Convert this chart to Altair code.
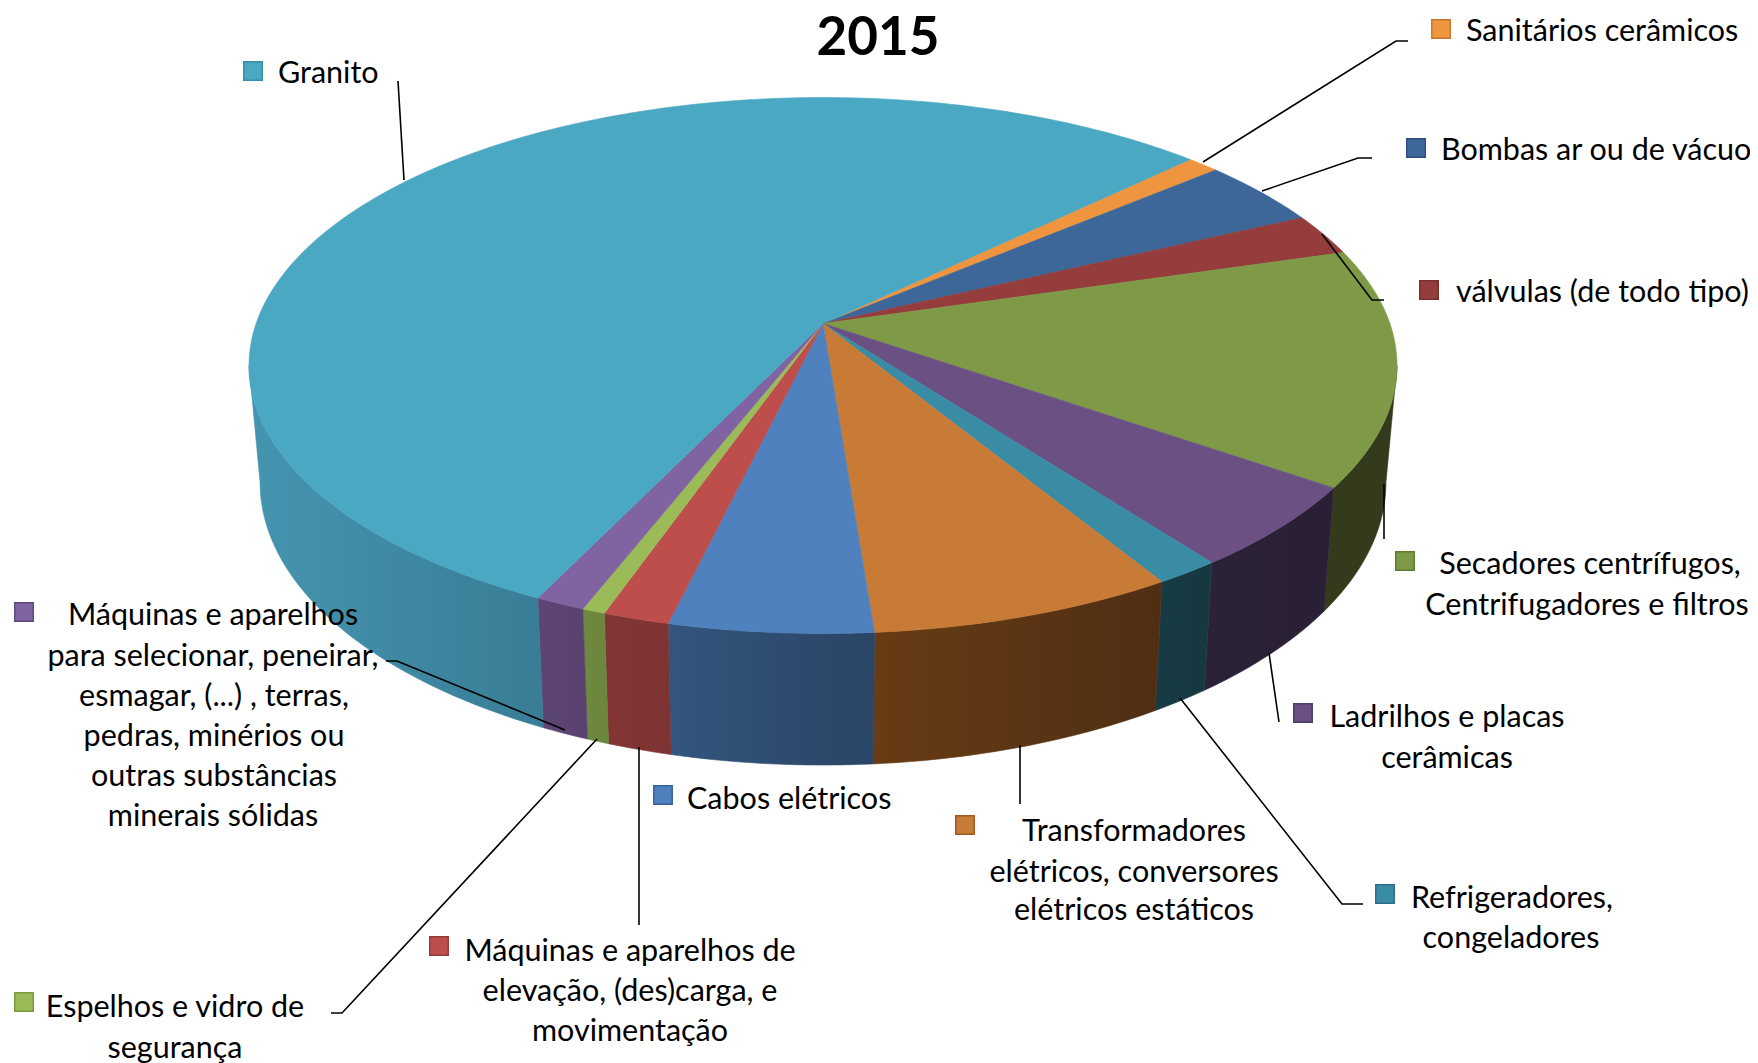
import numpy as np
import pandas as pd
import altair as alt

# ---- values (share of the pie, %) clockwise from the first slice
names = ["Sanitários cerâmicos", "Bombas ar ou de vácuo", "válvulas (de todo tipo)",
         "Secadores centrífugos, Centrifugadores e filtros", "Ladrilhos e placas cerâmicas",
         "Refrigeradores, congeladores", "Transformadores elétricos, conversores elétricos estáticos",
         "Cabos elétricos", "Máquinas e aparelhos de elevação, (des)carga, e movimentação",
         "Espelhos e vidro de segurança",
         "Máquinas e aparelhos para selecionar, peneirar, esmagar, (...) , terras, pedras, minérios ou outras substâncias minerais sólidas",
         "Granito"]
shares = [1.06, 4.08, 2.53, 14.28, 5.06, 1.58, 7.44, 4.94, 1.61, 0.56, 1.22, 55.64]
top_colors = ["#F0953F", "#3C6798", "#953C3C", "#7F9A47", "#6A5083", "#3A8CA5",
              "#C87B37", "#4E81BD", "#BE4E4B", "#9BBB59", "#8064A2", "#4AA8C3"]
side_left = ["#A0601F", "#2A4A70", "#6E2A2A", "#333B1C", "#2C2238", "#173B44",
             "#683C14", "#33557E", "#833535", "#6F8A3F", "#5E4674", "#4595B0"]
side_right = ["#A0601F", "#2A4A70", "#6E2A2A", "#333B1C", "#2A1F34", "#163840",
              "#4F2E14", "#2A4565", "#7E3333", "#6B863D", "#5A4270", "#387D95"]
key_borders = ["#C8762F", "#2C5080", "#7A2E2E", "#5F7A32", "#4E3A66", "#2A7088",
               "#A05A20", "#35639B", "#9A3A38", "#7A9A40", "#5F4880", "#3590AC"]

# ---- label rows: text, position
label_text = ["Granito", "Sanitários cerâmicos", "Bombas ar ou de vácuo", "válvulas (de todo tipo)", "Cabos elétricos"]
label_left = [278, 1466, 1441, 1456, 687]
label_y = [74, 32, 151, 293, 800]

center_text = ["Secadores centrífugos,", "Centrifugadores e filtros", "Ladrilhos e placas", "cerâmicas",
               "Refrigeradores,", "congeladores", "Transformadores", "elétricos, conversores",
               "elétricos estáticos", "Máquinas e aparelhos de", "elevação, (des)carga, e", "movimentação",
               "Espelhos e vidro de", "segurança", "Máquinas e aparelhos", "para selecionar, peneirar,",
               "esmagar, (...) , terras,", "pedras, minérios ou", "outras substâncias", "minerais sólidas"]
center_x = [1590, 1587, 1447, 1447, 1512, 1511, 1134, 1134, 1134, 630, 630, 630, 175, 175,
            213, 213, 214, 214, 214, 213]
center_y = [565, 606, 718, 759, 899, 939, 832, 873, 911, 952, 992, 1032, 1008, 1049,
            616, 657, 697, 737, 777, 817]

key_x = [1441, 1416, 1429, 1405, 1303, 1385, 965, 663, 439, 24, 24, 253]
key_y = [29, 148, 290, 561, 713, 894, 825, 795, 946, 1002, 612, 71]

leaders = [
    [(398, 81), (404, 180)],
    [(1203, 162), (1396, 41), (1408, 41)],
    [(1262, 191), (1358, 158), (1372, 158)],
    [(1322, 234), (1372, 300), (1384, 300)],
    [(1384, 484), (1384, 539)],
    [(1269, 653), (1279, 722)],
    [(1180, 698), (1342, 904), (1363, 904)],
    [(1020, 745), (1020, 804)],
    [(639, 747), (639, 925)],
    [(597, 739), (342, 1013), (331, 1013)],
    [(565, 730), (397, 661), (386, 661)],
]

START_ANGLE = 45.9
TOP = dict(cy=323.5, H=261.4, W=566.9)
BOTTOM = dict(cy=438.0, H=275.8, W=556.0)
CX, K = 823.0, 0.1567
FONT = "Lato"
FS = 30.5

X = alt.Scale(domain=[8, 1750], nice=False, zero=False)
Y = alt.Scale(domain=[1063, 8], nice=False, zero=False)


def project(theta, g):
    t = np.radians(theta)
    u, v = np.sin(t), -np.cos(t)
    d = 1 - K * v
    return CX + g["W"] * u / d, g["cy"] + g["H"] * v / d


def arc(a, b):
    return np.linspace(a, b, max(2, int(abs(b - a)) + 2))


def poly_chart(xs, ys, fill, stroke, sw=0.8):
    df = pd.DataFrame({"x": xs, "y": ys, "o": range(len(xs))})
    return alt.Chart(df).mark_line(fill=fill, stroke=stroke, strokeWidth=sw, strokeJoin="round").encode(
        x=alt.X("x:Q", scale=X, axis=None),
        y=alt.Y("y:Q", scale=Y, axis=None),
        order="o:Q",
    )


edges = START_ANGLE + np.concatenate([[0], np.cumsum(shares)]) * 3.6
layers = []

# side wall (front half only)
VIS_A, VIS_B = 99.0, 261.0
for i in range(len(shares)):
    a, b = max(edges[i], VIS_A), min(edges[i + 1], VIS_B)
    if b <= a:
        continue
    th = arc(a, b)
    x1, y1 = project(th, TOP)
    x2, y2 = project(th[::-1], BOTTOM)
    xs = np.concatenate([x1, x2, x1[:1]])
    ys = np.concatenate([y1, y2, y1[:1]])
    # wall shading runs across x, darker toward the right
    grad = alt.LinearGradient(gradient="linear", x1=0, x2=1, y1=0, y2=0, stops=[
        alt.GradientStop(color=side_left[i], offset=0),
        alt.GradientStop(color=side_right[i], offset=1)])
    layers.append(poly_chart(xs, ys, grad, grad, 0.6))

# top face
for i in range(len(shares)):
    th = arc(edges[i], edges[i + 1])
    x1, y1 = project(th, TOP)
    xs = np.concatenate([[CX], x1, [CX]])
    ys = np.concatenate([[TOP["cy"]], y1, [TOP["cy"]]])
    layers.append(poly_chart(xs, ys, top_colors[i], top_colors[i], 0.6))

# leader lines
rows = [dict(g=g, o=j, x=p[0], y=p[1]) for g, l in enumerate(leaders) for j, p in enumerate(l)]
layers.append(alt.Chart(pd.DataFrame(rows)).mark_line(color="black", strokeWidth=1.6).encode(
    x=alt.X("x:Q", scale=X, axis=None), y=alt.Y("y:Q", scale=Y, axis=None),
    detail="g:N", order="o:Q"))

# legend keys
kdf = pd.DataFrame({"x": key_x, "y": key_y, "n": names, "f": top_colors, "s": key_borders})
layers.append(alt.Chart(kdf).mark_square(size=340, opacity=1, strokeWidth=1.5).encode(
    x=alt.X("x:Q", scale=X, axis=None), y=alt.Y("y:Q", scale=Y, axis=None),
    fill=alt.Fill("f:N", scale=None), stroke=alt.Stroke("s:N", scale=None)))

# text
ldf = pd.DataFrame({"x": label_left, "y": label_y, "t": label_text})
layers.append(alt.Chart(ldf).mark_text(align="left", baseline="middle", font=FONT, fontSize=FS, color="black").encode(
    x=alt.X("x:Q", scale=X, axis=None), y=alt.Y("y:Q", scale=Y, axis=None), text="t:N"))
cdf = pd.DataFrame({"x": center_x, "y": center_y, "t": center_text})
layers.append(alt.Chart(cdf).mark_text(align="center", baseline="middle", font=FONT, fontSize=FS, color="black").encode(
    x=alt.X("x:Q", scale=X, axis=None), y=alt.Y("y:Q", scale=Y, axis=None), text="t:N"))
tdf = pd.DataFrame({"x": [878], "y": [39], "t": ["2015"]})
layers.append(alt.Chart(tdf).mark_text(align="center", baseline="middle", font=FONT, fontSize=53, fontWeight="bold", color="black").encode(
    x=alt.X("x:Q", scale=X, axis=None), y=alt.Y("y:Q", scale=Y, axis=None), text="t:N"))

chart = alt.layer(*layers).properties(
    width=1742, height=1055, padding=0, autosize="none", background="white"
).configure_view(stroke=None)

chart.save("out.html", embed_options={"renderer": "svg", "actions": False})
